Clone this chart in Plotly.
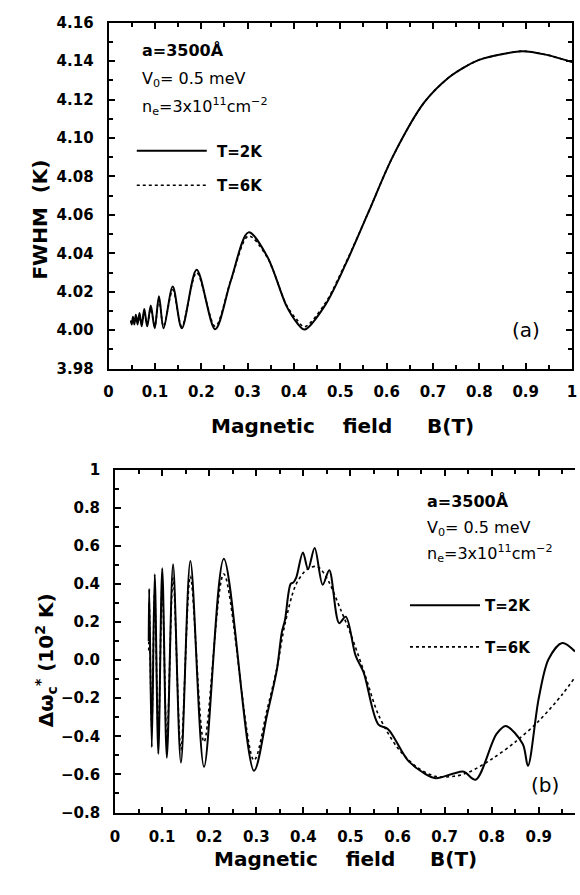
import plotly.graph_objects as go

# ---- panel (a): FWHM versus magnetic field ----
b_fwhm = [0.048, 0.050, 0.0526, 0.0556, 0.0588, 0.0625, 0.0667, 0.0714, 0.0770,
          0.0833, 0.0910, 0.0995, 0.1087, 0.1186, 0.1385, 0.158, 0.190, 0.230,
          0.264, 0.302, 0.342, 0.384, 0.406, 0.423, 0.466, 0.512, 0.560, 0.614,
          0.681, 0.734, 0.770, 0.801, 0.851, 0.893, 0.943, 1.000]
fwhm_2k = [4.005, 4.003, 4.007, 4.003, 4.008, 4.003, 4.009, 4.002, 4.011,
           4.002, 4.0128, 4.001, 4.0177, 4.001, 4.0227, 4.001, 4.0315, 4.0005,
           4.026, 4.0509, 4.0385, 4.0125, 4.004, 4.0003, 4.0125, 4.0346, 4.061, 4.0907,
           4.1185, 4.1315, 4.1372, 4.1408, 4.1437, 4.1452, 4.1434, 4.1395]
fwhm_6k = [4.005, 4.004, 4.006, 4.004, 4.007, 4.004, 4.007, 4.003, 4.009,
           4.003, 4.011, 4.002, 4.016, 4.002, 4.021, 4.002, 4.030, 4.002,
           4.026, 4.049, 4.038, 4.013, 4.0055, 4.0018, 4.0135, 4.0352, 4.061, 4.0907,
           4.1185, 4.1315, 4.1372, 4.1408, 4.1437, 4.1452, 4.1434, 4.1395]

# ---- panel (b): cyclotron-frequency shift versus magnetic field ----
b_shift_2k = [0.0715, 0.0725, 0.0780, 0.0842, 0.0919, 0.1002, 0.1100, 0.1232,
              0.1399, 0.1600, 0.1890, 0.2310, 0.2950, 0.323, 0.344, 0.354, 0.361,
              0.373, 0.379, 0.385, 0.399, 0.410, 0.424, 0.441, 0.455, 0.476, 0.490,
              0.511, 0.528, 0.559, 0.580, 0.622, 0.657, 0.681, 0.719, 0.741, 0.766,
              0.810, 0.830, 0.866, 0.877, 0.900, 0.921, 0.950, 0.977]
shift_2k = [0.10, 0.374, -0.457, 0.451, -0.492, 0.482, -0.512, 0.503,
            -0.538, 0.520, -0.560, 0.532, -0.581, -0.286, -0.046, 0.143, 0.211,
            0.400, 0.408, 0.434, 0.565, 0.477, 0.588, 0.395, 0.472, 0.194, 0.228,
            0.023, -0.065, -0.337, -0.363, -0.526, -0.595, -0.620, -0.595, -0.586, -0.628,
            -0.389, -0.346, -0.440, -0.555, -0.200, 0.006, 0.090, 0.045]

b_shift_6k = [0.0715, 0.0725, 0.0780, 0.0842, 0.0919, 0.1002, 0.1100, 0.1232,
              0.1399, 0.1600, 0.1890, 0.2310, 0.2950, 0.323, 0.344, 0.361, 0.385,
              0.410, 0.430, 0.450, 0.480, 0.500, 0.530, 0.560, 0.600, 0.640, 0.680,
              0.720, 0.750, 0.800, 0.850, 0.900, 0.950, 0.977]
shift_6k = [0.05, 0.30, -0.35, 0.36, -0.40, 0.40, -0.43, 0.43,
            -0.47, 0.44, -0.43, 0.452, -0.526, -0.26, -0.04, 0.19, 0.40,
            0.48, 0.49, 0.43, 0.26, 0.14, -0.07, -0.29, -0.46, -0.56, -0.61,
            -0.61, -0.59, -0.52, -0.43, -0.32, -0.18, -0.09]

x_ticks = [0, 0.1, 0.2, 0.3, 0.4, 0.5, 0.6, 0.7, 0.8, 0.9, 1.0]
x_ticktext = ["0", "0.1", "0.2", "0.3", "0.4", "0.5", "0.6", "0.7", "0.8", "0.9", "1"]
fwhm_ticks = [3.98, 4.00, 4.02, 4.04, 4.06, 4.08, 4.10, 4.12, 4.14, 4.16]
shift_ticks = [-0.8, -0.6, -0.4, -0.2, 0.0, 0.2, 0.4, 0.6, 0.8, 1.0]
shift_ticktext = ["\u22120.8", "\u22120.6", "\u22120.4", "\u22120.2", "0.0",
                  "0.2", "0.4", "0.6", "0.8", "1"]

W, H = 580, 895
FONT = "DejaVu Sans"
NB = "\u00a0"


def px(x):
    return x / W


def py(y):
    return 1 - y / H


fig = go.Figure()

solid = dict(color="black", width=2, shape="spline", smoothing=0.9)
dotted = dict(color="black", width=1.6, dash="dot", shape="spline", smoothing=0.9)

fig.add_trace(go.Scatter(x=b_fwhm, y=fwhm_2k, mode="lines", line=solid,
                         name=NB + "T=2K", legendgroup="a2", xaxis="x", yaxis="y",
                         legend="legend"))
fig.add_trace(go.Scatter(x=b_fwhm, y=fwhm_6k, mode="lines", line=dotted,
                         name=NB + "T=6K", legendgroup="a6", xaxis="x", yaxis="y",
                         legend="legend"))
fig.add_trace(go.Scatter(x=b_shift_2k, y=shift_2k, mode="lines", line=solid,
                         name="T=2K", legendgroup="b2", xaxis="x2", yaxis="y2",
                         legend="legend2"))
fig.add_trace(go.Scatter(x=b_shift_6k, y=shift_6k, mode="lines", line=dotted,
                         name="T=6K", legendgroup="b6", xaxis="x2", yaxis="y2",
                         legend="legend2"))

tickfont = dict(family=FONT, size=15, color="black", weight="bold")
axis_common = dict(showgrid=False, zeroline=False, showline=True, linecolor="black",
                   linewidth=2, ticks="inside", ticklen=6, tickwidth=1.5,
                   tickcolor="black", tickfont=tickfont, ticklabeloverflow="allow")

fig.update_layout(
    width=W, height=H,
    margin=dict(l=0, r=0, t=0, b=0),
    paper_bgcolor="white", plot_bgcolor="white",
    xaxis=dict(axis_common, domain=[px(105.4), px(577)], range=[0, 1],
               tickvals=x_ticks, ticktext=x_ticktext, mirror="ticks",
               ticklabelstandoff=8,
               minor=dict(dtick=0.05, ticks="inside", ticklen=4, tickcolor="black")),
    yaxis=dict(axis_common, domain=[py(367), py(14)], range=[3.98, 4.16],
               tickvals=fwhm_ticks, ticktext=[f"{v:.2f}" for v in fwhm_ticks],
               mirror="ticks", ticklabelstandoff=10,
               minor=dict(dtick=0.01, ticks="inside", ticklen=4, tickcolor="black")),
    xaxis2=dict(axis_common, domain=[px(112), 1], range=[0, 0.977], anchor="y2",
                tickvals=x_ticks, ticktext=x_ticktext, mirror="ticks",
                ticklabelstandoff=9,
                minor=dict(dtick=0.05, ticks="inside", ticklen=4, tickcolor="black")),
    yaxis2=dict(axis_common, domain=[py(820), py(470)], range=[-0.8, 1.0], anchor="x2",
                tickvals=shift_ticks, ticktext=shift_ticktext, mirror=False,
                ticklabelstandoff=10,
                minor=dict(dtick=0.1, ticks="inside", ticklen=4, tickcolor="black")),
    legend=dict(x=px(129), y=py(128), xanchor="left", yanchor="top",
                bgcolor="rgba(0,0,0,0)", borderwidth=0, itemwidth=70,
                tracegroupgap=12, traceorder="grouped",
                font=dict(family=FONT, size=15, color="black", weight="bold")),
    legend2=dict(x=px(407), y=py(592), xanchor="left", yanchor="top",
                 bgcolor="rgba(0,0,0,0)", borderwidth=0, itemwidth=70,
                 tracegroupgap=19, traceorder="grouped",
                 font=dict(family=FONT, size=15, color="black", weight="bold")),
)

ann_font = dict(family=FONT, size=16, color="black")
notes = []
# parameter block, panel (a)
notes += [
    dict(text="<b>a=3500Å</b>", x=px(137), y=py(42)),
    dict(text="V<sub>0</sub>= 0.5 meV", x=px(137), y=py(72)),
    dict(text="n<sub>e</sub>=3x10<sup>11</sup>cm<sup>\u22122</sup>", x=px(137), y=py(100)),
]
# parameter block, panel (b)
notes += [
    dict(text="<b>a=3500Å</b>", x=px(427), y=py(503)),
    dict(text="V<sub>0</sub>= 0.5 meV", x=px(427), y=py(530)),
    dict(text="n<sub>e</sub>=3x10<sup>11</sup>cm<sup>\u22122</sup>", x=px(427), y=py(556)),
]
for n in notes:
    fig.add_annotation(xref="paper", yref="paper", xanchor="left", yanchor="middle",
                       showarrow=False, font=ann_font, **n)

# panel letters
fig.add_annotation(text="(a)", xref="paper", yref="paper", x=px(546), y=py(328),
                   showarrow=False, font=dict(family=FONT, size=20, color="black"))
fig.add_annotation(text="(b)", xref="paper", yref="paper", x=px(566), y=py(806),
                   showarrow=False, font=dict(family=FONT, size=20, color="black"))

# axis titles
title_font = dict(family=FONT, size=20, color="black", weight="bold")
xtitle = f"Magnetic{NB * 4}field{NB * 5}B(T)"
fig.add_annotation(text=xtitle, xref="paper", yref="paper", x=px(343), y=py(426),
                   showarrow=False, font=title_font)
fig.add_annotation(text=xtitle, xref="paper", yref="paper", x=px(346), y=py(882),
                   showarrow=False, font=title_font)
fig.add_annotation(text=f"FWHM{NB * 2}(K)", xref="paper", yref="paper", x=px(21),
                   y=py(152), textangle=-90, showarrow=False, font=title_font)
fig.add_annotation(text=f"\u0394\u03c9<sub>c</sub><sup>*</sup>{NB}(10<sup>2</sup>{NB}K)",
                   xref="paper", yref="paper", x=px(25), y=py(735), textangle=-90,
                   showarrow=False, font=title_font)

fig.write_html("out.html")
